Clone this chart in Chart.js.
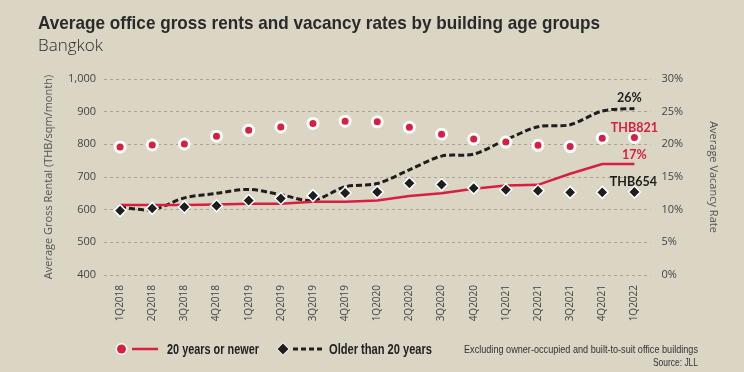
<!DOCTYPE html>
<html>
<head>
<meta charset="utf-8">
<script src="https://cdn.jsdelivr.net/npm/chart.js@4.4.1/dist/chart.umd.min.js"></script>
<style>
  html, body { margin: 0; padding: 0; background: #dbd5c4; }
  #wrap { position: relative; width: 744px; height: 372px; }
</style>
</head>
<body>
<div id="wrap"><canvas id="chart" width="744" height="372"></canvas></div>
<script>
// ── data ───────────────────────────────────────────────────────
const quarters = ['1Q2018', '2Q2018', '3Q2018', '4Q2018', '1Q2019', '2Q2019', '3Q2019', '4Q2019',
  '1Q2020', '2Q2020', '3Q2020', '4Q2020', '1Q2021', '2Q2021', '3Q2021', '4Q2021', '1Q2022'];

// average gross rent, THB/sqm/month (left axis)
const rentNewer = [792, 798, 801, 825, 843, 853, 864, 871, 869, 852, 831, 816, 807, 797, 793, 819, 821];
const rentOlder = [597, 604, 608, 612, 628, 634, 643, 651, 654, 681, 677, 666, 661, 658, 653, 653, 654];

// average vacancy rate, % (right axis)
const vacNewer = [10.7, 10.7, 10.7, 10.8, 10.9, 10.9, 11.2, 11.2, 11.4, 12.1, 12.5, 13.2, 13.7, 13.8, 15.5, 17.0, 17.0];
const vacOlder = [10.4, 10.0, 11.8, 12.5, 13.1, 12.3, 11.4, 13.5, 14.0, 16.1, 18.2, 18.5, 20.7, 22.7, 23.0, 25.1, 25.5];

const rentTicks = [400, 500, 600, 700, 800, 900, 1000];
const vacTicks = [0, 5, 10, 15, 20, 25, 30];

// ── style ─────────────────────────────────────────────────────
const BG = '#dbd5c4';
const RED = '#d81f3f';
const DARK = '#1e1e1e';
const GRID = '#aaa496';
const SANS = "'Liberation Sans', Arial, sans-serif";
const BODY = "'Open Sans', 'Noto Sans', sans-serif";

const fmtRent = v => v.toLocaleString('en-US');
const fmtVac = v => v + '%';

// texto comprimido na horizontal para caber na largura da referência
function fitText(ctx, text, x, y, width, align) {
  const w = ctx.measureText(text).width;
  const sx = Math.min(1, width / w);
  ctx.save();
  ctx.textAlign = 'left';
  const x0 = align === 'right' ? x - w * sx : x;
  ctx.translate(x0, y);
  ctx.scale(sx, 1);
  ctx.fillText(text, 0, 0);
  ctx.restore();
}

const decorPlugin = {
  id: 'decor',
  beforeDraw(chart) {
    const { ctx, width, height } = chart;
    ctx.save();
    ctx.fillStyle = BG;
    ctx.fillRect(0, 0, width, height);
    ctx.restore();
  },
  afterDraw(chart) {
    const { ctx } = chart;
    const x = chart.scales.x;
    const yL = chart.scales.y;
    const yR = chart.scales.y1;
    const last = quarters.length - 1;
    const px = x.getPixelForValue(last);

    ctx.save();
    ctx.textBaseline = 'alphabetic';

    // título + subtítulo
    ctx.fillStyle = '#2a2a2a';
    ctx.font = 'bold 19px ' + SANS;
    fitText(ctx, 'Average office gross rents and vacancy rates by building age groups', 38, 29, 562, 'left');
    ctx.font = '300 17px ' + BODY;
    fitText(ctx, 'Bangkok', 38, 51, 67, 'left');

    // anotações no último trimestre
    ctx.textAlign = 'center';
    ctx.textBaseline = 'middle';
    ctx.font = "bold 12.5px Lato, 'Open Sans', sans-serif";
    ctx.fillStyle = DARK;
    ctx.fillText(Math.round(vacOlder[last]) + '%', px - 5, yR.getPixelForValue(vacOlder[last]) - 10);
    ctx.fillStyle = RED;
    ctx.fillText('THB' + rentNewer[last], px, yL.getPixelForValue(rentNewer[last]) - 10);
    ctx.fillText(Math.round(vacNewer[last]) + '%', px, yR.getPixelForValue(vacNewer[last]) - 9);
    ctx.fillStyle = DARK;
    ctx.fillText('THB' + rentOlder[last], px - 1, yL.getPixelForValue(rentOlder[last]) - 10);

    // legenda
    const ly = 349;
    ctx.lineWidth = 3;
    ctx.fillStyle = RED;
    ctx.strokeStyle = '#ffffff';
    ctx.beginPath(); ctx.arc(121.5, ly, 4.5, 0, Math.PI * 2); ctx.stroke(); ctx.fill();
    ctx.strokeStyle = RED;
    ctx.lineWidth = 2.5;
    ctx.beginPath(); ctx.moveTo(132, ly); ctx.lineTo(158, ly); ctx.stroke();

    ctx.fillStyle = DARK;
    ctx.strokeStyle = '#ffffff';
    ctx.lineWidth = 1.5;
    ctx.beginPath();
    ctx.moveTo(283, ly - 5.5); ctx.lineTo(288.5, ly); ctx.lineTo(283, ly + 5.5); ctx.lineTo(277.5, ly);
    ctx.closePath(); ctx.stroke(); ctx.fill();
    ctx.strokeStyle = DARK;
    ctx.lineWidth = 3;
    ctx.setLineDash([5, 3]);
    ctx.beginPath(); ctx.moveTo(293, ly); ctx.lineTo(323, ly); ctx.stroke();
    ctx.setLineDash([]);

    ctx.textBaseline = 'alphabetic';
    ctx.fillStyle = '#222';
    ctx.font = 'bold 14px ' + SANS;
    fitText(ctx, '20 years or newer', 167, ly + 5, 92, 'left');
    fitText(ctx, 'Older than 20 years', 329, ly + 5, 103, 'left');

    ctx.font = '11px ' + SANS;
    ctx.fillStyle = '#333';
    fitText(ctx, 'Excluding owner-occupied and built-to-suit office buildings', 698, ly + 4, 234, 'right');
    fitText(ctx, 'Source: JLL', 698, ly + 17, 45, 'right');
    ctx.restore();
  }
};

new Chart(document.getElementById('chart'), {
  type: 'line',
  data: {
    labels: quarters,
    datasets: [
      {
        label: 'Rent - 20 years or newer',
        data: rentNewer,
        yAxisID: 'y',
        showLine: false,
        pointStyle: 'circle',
        pointRadius: 5,
        pointBorderWidth: 3,
        pointBackgroundColor: RED,
        pointBorderColor: '#ffffff'
      },
      {
        label: 'Rent - Older than 20 years',
        data: rentOlder,
        yAxisID: 'y',
        showLine: false,
        pointStyle: 'rectRot',
        pointRadius: 6,
        pointBorderWidth: 1.5,
        pointBackgroundColor: DARK,
        pointBorderColor: '#ffffff'
      },
      {
        label: 'Vacancy - 20 years or newer',
        data: vacNewer,
        yAxisID: 'y1',
        borderColor: RED,
        borderWidth: 2.5,
        pointRadius: 0,
        tension: 0
      },
      {
        label: 'Vacancy - Older than 20 years',
        data: vacOlder,
        yAxisID: 'y1',
        borderColor: DARK,
        borderWidth: 3,
        borderDash: [6, 3],
        pointRadius: 0,
        tension: 0.3
      }
    ]
  },
  options: {
    responsive: false,
    animation: false,
    layout: { padding: { left: 38, right: 20, top: 79, bottom: 42 } },
    plugins: {
      legend: { display: false },
      tooltip: { enabled: false },
      title: { display: false },
      subtitle: { display: false }
    },
    scales: {
      x: {
        offset: true,
        grid: { display: false, drawTicks: false },
        border: { display: false },
        afterFit: s => { s.height = 55; },
        ticks: {
          minRotation: 90,
          maxRotation: 90,
          padding: 10,
          color: '#444',
          font: { family: BODY, size: 10 }
        }
      },
      y: {
        position: 'left',
        min: rentTicks[0],
        max: rentTicks[rentTicks.length - 1],
        afterBuildTicks: s => { s.ticks = rentTicks.map(v => ({ value: v })); },
        afterFit: s => { s.width = 66; },
        grid: { color: GRID, lineWidth: 1, drawTicks: false },
        border: { display: false, dash: [3, 3] },
        ticks: {
          padding: 8,
          color: '#444',
          font: { family: BODY, size: 11 },
          callback: v => fmtRent(v)
        },
        title: {
          display: true,
          text: 'Average Gross Rental (THB/sqm/month)',
          color: '#555',
          font: { family: BODY, size: 11 },
          padding: { top: 4, bottom: 4 }
        }
      },
      y1: {
        position: 'right',
        min: vacTicks[0],
        max: vacTicks[vacTicks.length - 1],
        afterBuildTicks: s => { s.ticks = vacTicks.map(v => ({ value: v })); },
        afterFit: s => { s.width = 73.5; },
        grid: { display: false, drawTicks: false },
        border: { display: false },
        ticks: {
          padding: 11,
          color: '#444',
          font: { family: BODY, size: 11 },
          callback: v => fmtVac(v)
        },
        title: {
          display: true,
          text: 'Average Vacancy Rate',
          color: '#555',
          font: { family: BODY, size: 11 },
          padding: { top: 4, bottom: 0 }
        }
      }
    }
  },
  plugins: [decorPlugin]
});
</script>
</body>
</html>
